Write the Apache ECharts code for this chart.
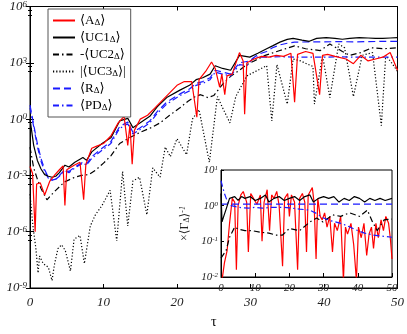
<!DOCTYPE html>
<html>
<head>
<meta charset="utf-8">
<script src="https://cdn.jsdelivr.net/npm/echarts@6/dist/echarts.min.js"></script>
<style>html,body{margin:0;padding:0;background:#fff}#chart{width:407px;height:334px}</style>
</head>
<body>
<div id="chart"></div>
<script>
var FONT = '"Liberation Serif", "DejaVu Serif", serif';

// main panel, values
var tA = [0,0.35,0.7,0.9,1.4,2.0,2.7,3.4,4.0,4.5,4.75,5.0,6.0,6.8,7.3,7.6,8.4,9,10,11,12,12.8,13.3,13.6,13.9,14.2,15,16,17,18,19,20,21,22,22.7,23,24,24.7,25.2,25.8,26.1,26.5,26.8,27.5,28.5,29,29.2,29.5,30.5,31.5,32.5,33.5,34.5,35.5,36,36.4,37.5,38.5,39.4,39.8,40.5,41.5,43,44,45,46,47,48,49,50];
var A = [3e-3,1.26e-3,1e-6,3.5e-4,4e-4,9e-5,5e-4,1.1e-3,2e-3,3.2e-3,2.5e-5,2e-3,3.5e-3,5e-3,5e-5,4e-3,2.8e-2,3.5e-2,5e-2,0.126,0.63,1.4,4e-2,0.5,4e-3,0.25,1,1.6,4,10,25,63,100,100,1.26,126,400,1100,500,50,250,20,200,250,3500,1260,1.8,1000,1600,2200,2000,2500,2200,3200,8,2800,4000,3200,20,2500,2800,2200,1600,900,2500,1260,1600,2000,3500,400];

var tUC1 = [0,0.5,1,1.5,2,2.5,3,3.5,4,4.75,5.3,6.1,7.2,7.7,8.4,9.8,11,12.2,13.3,14,15,16.3,17.3,18.6,20.4,21.7,22.6,23.5,24.5,25.2,26.2,27.3,28.5,29.9,31,32.2,33,34,35,35.8,37,38,39,40.3,41.5,42.5,43.5,44.8,46,47,48,49,50];
var UC1 = [1,4e-2,6.3e-3,2.2e-3,1.1e-3,9e-4,8e-4,9e-4,1.4e-3,3.5e-3,2.8e-3,5e-3,9e-3,6.3e-3,1.8e-2,5e-2,0.1,0.8,1.1,0.35,0.63,1.4,4.5,14,35,63,126,160,250,700,500,400,2500,2000,3200,5600,8000,12600,17800,20000,16000,14000,20000,22000,20000,18000,20000,22000,21000,20000,20000,21000,22000];

var tUC2 = [0,0.5,1,1.5,2.3,3,3.5,4.7,6.1,7,8,9,10,11,12.2,13.5,15,16.5,17.7,19,20.4,21.5,22.5,23.2,24.2,25,25.5,26.5,27.5,28.5,29.5,30.5,32,34,36,37.5,39.5,40.8,42.5,43.5,45,46.5,48,50];
var UC2 = [3.2e-2,2.5e-3,6.3e-4,2e-4,5e-5,1e-4,1.6e-4,4.5e-4,8e-4,1e-3,1.1e-3,2e-3,4.5e-3,1.1e-2,5e-2,0.1,0.2,0.35,0.63,1.6,4,9,16,20,14,18,32,100,220,400,800,1260,2500,4500,8000,5600,4500,10000,4000,2500,3500,6300,5600,6300];

var tUC3 = [0,0.4,0.8,1.1,1.3,1.8,2.5,3.0,3.3,3.8,4.3,4.8,5.5,6.0,6.8,7.4,8.2,8.9,9.8,10.9,11.8,12.6,13.3,14,14.9,15.9,16.7,17.7,18.4,19.1,20,21.3,22.1,23,24.4,25.5,26.2,27.2,28,29.5,30.5,32.2,32.9,33.6,35,35.8,36.8,38.5,38.7,39.8,40.8,42,42.8,44,45.2,46.6,47.8,48.4,49.2,50];
var UC3 = [1e-4,2e-6,1.26e-7,6.3e-9,5e-8,2e-8,1.26e-8,2.5e-9,1.6e-8,1.26e-7,2e-7,1e-7,8e-9,4e-7,6.3e-7,2e-8,2e-6,8e-6,2.5e-5,1.6e-4,3.2e-7,1.6e-3,2e-6,5e-4,8e-4,8e-6,2.5e-3,8e-4,3.2e-2,1e-2,9e-2,1.26e-2,1,3.2,5e-3,16,4,0.63,16,200,320,700,0.8,800,6.3,1600,1260,630,6.3,2500,14,10000,6300,16,2500,3500,0.45,2500,1000,350];

var tR = [0,0.5,1,1.5,2,2.5,3,3.5,4,4.75,5.3,6.1,7.2,7.7,8.4,9.8,11,12.2,13.3,14,15,16.3,17.3,18.6,20.4,21.7,22.6,23.5,24.5,25.2,26.2,27.3,28.5,29.9,31,32.2,33,34,35,36,38,40,42,44,46,48,50];
var R = [5.6,0.5,5e-2,8e-3,2e-3,8e-4,5.6e-4,6.3e-4,1e-3,2e-3,1.6e-3,2.8e-3,5e-3,4e-3,1e-2,2.8e-2,6.3e-2,0.4,0.7,0.2,0.35,0.8,2.5,8,22,40,80,100,160,400,320,250,1000,1260,2800,4000,6300,9000,11000,12600,13000,13000,13500,13000,13500,13800,14000];

var tPD = [0,0.5,1,1.5,2,2.5,3,3.5,4,4.75,5.3,6.1,7.2,7.7,8.4,9.8,11,12.2,13.3,14,15,16.3,17.3,18.6,20.4,21.7,22.6,23.5,24.5,25.2,26.2,27.3,28.5,29.5,30.5,32,34,36,38,40,42,44,46,48,50];
var PD = [4,0.4,3.5e-2,5.6e-3,1.6e-3,7e-4,5.6e-4,6.3e-4,9e-4,1.8e-3,1.4e-3,2.5e-3,4.5e-3,3.5e-3,8e-3,2.2e-2,5e-2,0.32,0.56,0.16,0.28,0.63,2,6.3,18,32,63,80,126,320,250,200,800,700,2000,2000,2100,2000,2000,2000,2100,2000,2000,2000,2000];

// inset, each quantity divided by <Gamma>
var tAi = [0,1,1.8,2.5,3.3,4,4.5,5,5.8,6.5,7.5,8,8.7,9.5,10.5,11.5,12,12.6,13.5,14.2,14.8,15.5,16.3,17,18,18.6,19.5,20,20.6,21.5,22.4,23,23.8,24.5,25,25.5,26.7,27.2,27.8,28.3,29,29.6,30.3,31,31.8,32.6,33.2,34,35,35.8,36.4,37,38,38.8,39.6,40.2,41,41.8,42.6,43.3,44,44.6,45.3,46,46.8,47.5,48.2,49,49.5,50];
var Ai = [5e-3,0.025,0.056,0.32,1.6,1.26,0.016,1,2,2.5,1.26,0.05,2.2,1.6,1.1,2,0.1,1.26,2.8,0.2,2,1.6,2.5,1,0.02,1.6,2.2,0.5,2,1.26,0.016,1.6,2.2,1.26,0.05,2,3.2,1.26,0.032,1.6,0.5,0.4,0.63,0.25,0.5,0.05,0.32,0.2,0.5,0.008,0.25,0.16,0.32,0.08,0.008,0.25,0.126,0.32,0.04,0.16,0.25,0.063,0.32,0.126,0.4,0.2,0.5,0.32,0.126,0.032];

var tUC1i = [0,0.3,0.8,1.5,2.5,4,5,6,7,8.5,10,11.5,13,14,15.5,17,18.5,20,21.5,23,24.5,26,27,28.5,30,31.5,33,34.5,36,37.5,39,40.5,42,43.5,45,46.5,48,50];
var UC1i = [2.2,0.35,0.5,0.8,1.6,1.8,1.4,1.8,1.6,1.8,1.4,1.6,2,1.26,1.6,1.8,1.4,1.6,1.8,1.4,1.8,2,1.26,1.6,1.8,1.6,1.8,1.26,1.6,1.4,1.8,1.6,1.26,1.6,1.4,1.6,1.4,1.6];

var tUC2i = [0,1.5,2.5,4,5,7,9,11.5,14,16,18,20,23,26,28,29.8,32.7,35,37.6,40.5,42.8,44.3,45.7,47.7,50];
var UC2i = [0.034,0.056,0.13,0.25,0.22,0.2,0.2,0.18,0.17,0.15,0.15,0.23,0.2,0.35,0.45,0.35,0.55,0.5,0.63,0.5,0.75,0.35,0.2,0.4,0.42];

var tRi = [0,10,20,30,40,50];
var Ri = [1.1,1.1,1.1,1.1,1.1,1.1];

var tPDi = [0,1,2,3,5,8,10,12,15,18,20,23,26,28,30,32,35,37,40,42,44.5,47,50];
var PDi = [5,2.2,1.2,1,0.9,0.85,0.9,0.85,0.9,0.9,0.87,0.8,0.75,0.6,0.45,0.38,0.32,0.27,0.2,0.17,0.15,0.14,0.13];

var names = ['A', 'UC1', 'UC2', 'UC3', 'R', 'PD'];
var legendText = {
    A: '⟨A{s|Δ}⟩',
    UC1: '⟨UC1{s|Δ}⟩',
    UC2: '-⟨UC2{s|Δ}⟩',
    UC3: '|⟨UC3{s|Δ}⟩|',
    R: '⟨R{s|Δ}⟩',
    PD: '⟨PD{s|Δ}⟩'
};

function pairs(t, v) {
    return t.map(function (x, i) { return [x, v[i]]; });
}

var styles = {
    A:   {color: '#ff0000', type: 'solid'},
    UC1: {color: '#000000', type: 'solid'},
    UC2: {color: '#000000', type: [6, 3, 1.5, 3]},
    UC3: {color: '#000000', type: [1.2, 2]},
    R:   {color: '#1a1aff', type: [7, 4]},
    PD:  {color: '#1a1aff', type: [6, 3, 1.5, 3]}
};

function line(name, data, inset) {
    var s = styles[name];
    return {
        name: inset ? name + '_i' : name,
        type: 'line',
        data: data,
        xAxisIndex: inset ? 2 : 0,
        yAxisIndex: inset ? 2 : 0,
        symbol: 'none',
        showSymbol: false,
        animation: false,
        zlevel: inset ? 1 : 0,
        color: s.color,
        itemStyle: {color: s.color},
        lineStyle: {color: s.color, width: 1.2, type: s.type}
    };
}

function expLabel(v) {
    var e = Math.round(Math.log10(v));
    return '{b|10}{e|' + e + '}';
}

function labelRich(size) {
    return {
        b: {fontFamily: FONT, fontStyle: 'italic', fontSize: size, color: '#222'},
        e: {fontFamily: FONT, fontStyle: 'italic', fontSize: size - 4, color: '#222', verticalAlign: 'top'}
    };
}

var mainGrid = {left: 30, top: 6, right: 9, bottom: 36, show: true, borderColor: '#000', borderWidth: 1};
var insetGrid = {left: 221, top: 170, width: 171, height: 107, show: true, borderColor: '#000', borderWidth: 1, backgroundColor: '#fff', zlevel: 1};

var xBase = {
    type: 'value', min: 0, max: 50, interval: 10,
    axisLine: {lineStyle: {color: '#000'}},
    axisTick: {inside: true, length: 4, lineStyle: {color: '#000'}},
    splitLine: {show: false}
};

var option = {
    animation: false,
    backgroundColor: '#fff',
    grid: [mainGrid, insetGrid],
    legend: {
        data: names,
        left: 48, top: 9,
        orient: 'vertical',
        itemWidth: 22, itemHeight: 10, itemGap: 4,
        padding: [5, 5, 5, 4],
        borderColor: '#555', borderWidth: 1,
        backgroundColor: '#fff',
        selectedMode: false,
        itemStyle: {opacity: 0},
        formatter: function (n) { return legendText[n]; },
        textStyle: {
            fontFamily: FONT, fontSize: 13, color: '#000', lineHeight: 13,
            rich: {s: {fontFamily: FONT, fontSize: 9, color: '#000', verticalAlign: 'bottom'}}
        }
    },
    xAxis: [
        Object.assign({}, xBase, {
            gridIndex: 0, position: 'bottom',
            name: 'τ', nameLocation: 'middle', nameGap: 27,
            nameTextStyle: {fontFamily: FONT, fontSize: 14, color: '#000'},
            axisLabel: {fontFamily: FONT, fontStyle: 'italic', fontSize: 13, color: '#222', margin: 8}
        }),
        Object.assign({}, xBase, {gridIndex: 0, position: 'top', axisLabel: {show: false}}),
        Object.assign({}, xBase, {
            gridIndex: 1, position: 'bottom', zlevel: 1,
            axisLabel: {fontFamily: FONT, fontStyle: 'italic', fontSize: 11, color: '#222', margin: 6}
        })
    ],
    yAxis: [
        {
            type: 'log', logBase: 10, min: 1e-9, max: 1e6, interval: 3, gridIndex: 0,
            axisLine: {lineStyle: {color: '#000'}},
            axisTick: {inside: true, length: 4, lineStyle: {color: '#000'}},
            minorTick: {show: true, splitNumber: 3, length: 2, lineStyle: {color: '#000'}},
            splitLine: {show: false},
            axisLabel: {formatter: expLabel, rich: labelRich(13), margin: 3}
        },
        {
            type: 'log', logBase: 10, min: 1e-9, max: 1e6, interval: 3, gridIndex: 0, position: 'right',
            axisLine: {lineStyle: {color: '#000'}},
            axisTick: {inside: true, length: 4, lineStyle: {color: '#000'}},
            minorTick: {show: true, splitNumber: 3, length: 2, lineStyle: {color: '#000'}},
            splitLine: {show: false},
            axisLabel: {show: false}
        },
        {
            type: 'log', logBase: 10, min: 1e-2, max: 10, interval: 1, gridIndex: 1, zlevel: 1,
            axisLine: {lineStyle: {color: '#000'}},
            axisTick: {inside: true, length: 3, lineStyle: {color: '#000'}},
            splitLine: {show: false},
            axisLabel: {formatter: expLabel, rich: labelRich(11), margin: 3},
            name: '{t|×⟨Γ}{s|Δ}{t|⟩}{e|-1}', nameLocation: 'middle', nameRotate: 90, nameGap: 30,
            nameTextStyle: {
                fontSize: 12,
                rich: {
                    t: {fontFamily: FONT, fontSize: 12, color: '#222'},
                    s: {fontFamily: FONT, fontSize: 8, color: '#222', verticalAlign: 'bottom'},
                    e: {fontFamily: FONT, fontStyle: 'italic', fontSize: 8, color: '#222', verticalAlign: 'top'}
                }
            }
        }
    ],
    series: [
        line('UC3', pairs(tUC3, UC3)),
        line('UC2', pairs(tUC2, UC2)),
        line('PD', pairs(tPD, PD)),
        line('R', pairs(tR, R)),
        line('UC1', pairs(tUC1, UC1)),
        line('A', pairs(tA, A)),
        line('A', pairs(tAi, Ai), true),
        line('UC2', pairs(tUC2i, UC2i), true),
        line('PD', pairs(tPDi, PDi), true),
        line('R', pairs(tRi, Ri), true),
        line('UC1', pairs(tUC1i, UC1i), true)
    ]
};

var myChart = echarts.init(document.getElementById('chart'));
myChart.setOption(option);
</script>
</body>
</html>
